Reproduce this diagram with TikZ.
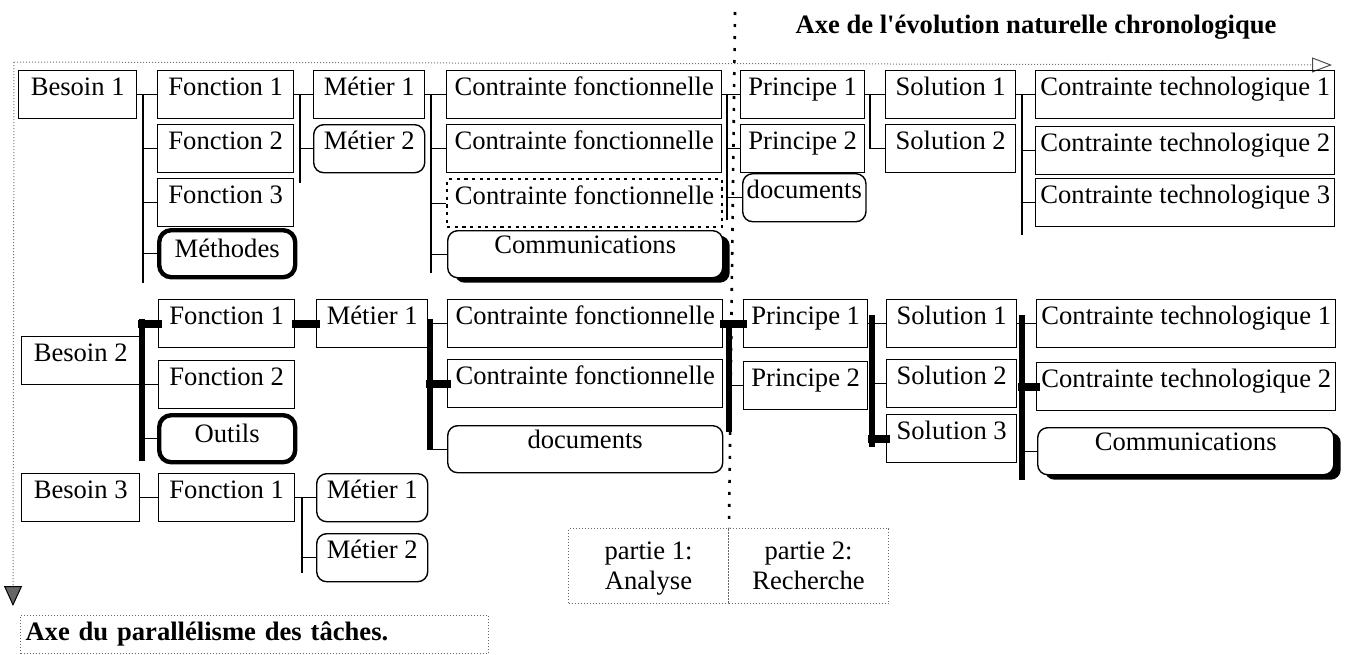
\documentclass[tikz,border=0pt]{standalone}
\usepackage{fontspec}
\setmainfont{Liberation Serif}
\usepackage{tikz}
\usetikzlibrary{arrows.meta,shadows}
\newcommand{\tfont}{\fontsize{13.3}{15}\selectfont}
\tikzset{
  tbox/.style ={rectangle, draw=black, line width=0.7pt, anchor=north west,
                inner xsep=2pt, inner ysep=0pt, text height=12.5pt, text depth=11.5pt,
                font=\tfont},
  trbox/.style={tbox, rounded corners=5pt},
  tdbox/.style={tbox, line width=1.1pt, dash pattern=on 1.6pt off 2.2pt},
  tmbox/.style={tbox, rounded corners=6pt, line width=2.2pt,
                text height=13.5pt, text depth=10pt},
  tsbox/.style={trbox, fill=white, text height=11.5pt, text depth=12pt,
                drop shadow={shadow xshift=3.5pt, shadow yshift=-2.5pt,
                             fill=black, opacity=1}},
  tpart/.style={rectangle, draw=black!60, densely dotted, line width=0.5pt,
                anchor=north west, minimum width=80pt, minimum height=37.5pt,
                align=center, font=\tfont},
  wB/.style={minimum width=59pt},
  wF/.style={minimum width=68pt},
  wM/.style={minimum width=55.5pt},
  wC/.style={minimum width=137.5pt},
  wP/.style={minimum width=62pt},
  wS/.style={minimum width=65pt},
  wT/.style={minimum width=149.5pt},
  tlink/.style={line width=0.6pt, black},
  tsep/.style ={line width=1.3pt, dash pattern=on 1.5pt off 4.5pt},
  taxis/.style={line width=0.5pt, black!55, densely dotted},
}

\begin{document}
\begin{tikzpicture}[x=0.5pt, y=-0.5pt,
    tbold/.style={line width=2.6pt, black},
    tstub/.style={line width=3.8pt, black, line cap=rect}]
  \useasboundingbox (0,0) rectangle (1347,654);
  \node[font=\tfont\bfseries] (axe) at (1036,27) {Axe de l\textquotesingle évolution naturelle chronologique};
  \coordinate (o) at (14,62);
  \coordinate (ax1) at (1332,65);
  \coordinate (ax2) at (13,606);
  \draw[taxis, -{Triangle[open, length=10pt, width=7.5pt, black!70]}] (o) -- (ax1);
  \draw[taxis, -{Triangle[length=10pt, width=9pt, black, fill=black!60]}] (o) -- (ax2);

  \node[tbox, wB]  (b1)   at (18,70)   {Besoin 1};
  \node[tbox, wF]  (f11)  at (157,70)  {Fonction 1};
  \node[tbox, wF]  (f12)  at (157,124) {Fonction 2};
  \node[tbox, wF]  (f13)  at (157,178) {Fonction 3};
  \node[tmbox, wF] (meth) at (157,228) {Méthodes};
  \node[tbox, wM]  (m11)  at (313,70)  {Métier 1};
  \node[trbox, wM] (m12)  at (313,124) {Métier 2};
  \node[tbox, wC]  (c11)  at (446,70)  {Contrainte fonctionnelle};
  \node[tbox, wC]  (c12)  at (446,124) {Contrainte fonctionnelle};
  \node[tdbox, wC] (c13)  at (446,178) {Contrainte fonctionnelle};
  \node[tsbox, wC] (com1) at (447,230) {Communications};
  \node[tbox, wP]  (p11)  at (740,70)  {Principe 1};
  \node[tbox, wP]  (p12)  at (740,124) {Principe 2};
  \node[trbox, minimum width=61pt] (doc1) at (742,173) {documents};
  \node[tbox, wS]  (s11)  at (885,70)  {Solution 1};
  \node[tbox, wS]  (s12)  at (885,124) {Solution 2};
  \node[tbox, wT]  (t11)  at (1035,70)  {Contrainte technologique 1};
  \node[tbox, wT]  (t12)  at (1035,126) {Contrainte technologique 2};
  \node[tbox, wT]  (t13)  at (1035,178) {Contrainte technologique 3};

  \node[tbox, wB]  (b2)   at (21,336)  {Besoin 2};
  \node[tbox, wF]  (f21)  at (158,299) {Fonction 1};
  \node[tbox, wF]  (f22)  at (158,360) {Fonction 2};
  \node[tmbox, wF] (outil) at (157,413) {Outils};
  \node[tbox, wM]  (m21)  at (316,299) {Métier 1};
  \node[tbox, wC]  (c21)  at (447,299) {Contrainte fonctionnelle};
  \node[tbox, wC]  (c22)  at (447,359) {Contrainte fonctionnelle};
  \node[trbox, wC, text height=11.5pt, text depth=12pt] (doc2) at (447,425) {documents};
  \node[tbox, wP]  (p21)  at (743,299) {Principe 1};
  \node[tbox, wP]  (p22)  at (743,361) {Principe 2};
  \node[tbox, wS]  (s21)  at (886,299) {Solution 1};
  \node[tbox, wS]  (s22)  at (886,359) {Solution 2};
  \node[tbox, wS]  (s23)  at (886,414) {Solution 3};
  \node[tbox, wT]  (t21)  at (1036,299) {Contrainte technologique 1};
  \node[tbox, wT]  (t22)  at (1036,362) {Contrainte technologique 2};
  \node[tsbox, minimum width=148pt] (com2) at (1037,427) {Communications};

  \node[tbox, wB]  (b3)   at (21,473)  {Besoin 3};
  \node[tbox, wF]  (f31)  at (158,473) {Fonction 1};
  \node[trbox, wM] (m31)  at (316,473) {Métier 1};
  \node[trbox, wM] (m32)  at (316,533) {Métier 2};

  \node[tpart, text depth=-2pt] (pa1) at (568,528) {partie 1:\\Analyse};
  \node[tpart, text depth=-2pt] (pa2) at (728,528) {partie 2:\\Recherche};
  \node[tpart, minimum width=234pt, minimum height=18.5pt, inner xsep=2.5pt,
        text width=229pt, align=left, font=\tfont\bfseries] (axp) at (20,615)
        {Axe du parallélisme des tâches.};
  \coordinate (sep0) at (735,12);
  \draw[tsep] (sep0) -- (pa1.north east);

  \coordinate (k11) at (143,94);  \coordinate (k11e) at (143,283);
  \draw[tlink] (b1) -- (f11);
  \draw[tlink] (k11) -- (k11e);
  \draw[tlink] (k11 |- f12.west) -- (f12.west);
  \draw[tlink] (k11 |- f13.west) -- (f13.west);
  \draw[tlink] (k11 |- meth.west) -- (meth.west);
  \coordinate (k12) at (300,94);  \coordinate (k12e) at (300,183);
  \draw[tlink] (f11) -- (m11);
  \draw[tlink] (k12) -- (k12e);
  \draw[tlink] (k12 |- m12.west) -- (m12.west);
  \coordinate (k13) at (431,94);  \coordinate (k13e) at (431,273);
  \draw[tlink] (m11) -- (c11);
  \draw[tlink] (k13) -- (k13e);
  \draw[tlink] (k13 |- c12.west) -- (c12.west);
  \draw[tlink] (k13 |- c13.west) -- (c13.west);
  \draw[tlink] (k13 |- com1.west) -- (com1.west);
  \coordinate (k14) at (727,94);  \coordinate (k14e) at (727,220);
  \draw[tlink] (c11) -- (p11);
  \draw[tlink] (k14) -- (k14e);
  \draw[tlink] (k14 |- p12.west) -- (p12.west);
  \draw[tlink] (k14 |- doc1.west) -- (doc1.west);
  \coordinate (k15) at (870,94);
  \draw[tlink] (p11) -- (s11);
  \draw[tlink] (k15) |- (s12.west);
  \coordinate (k16) at (1022,94); \coordinate (k16e) at (1022,235);
  \draw[tlink] (s11) -- (t11);
  \draw[tlink] (k16) -- (k16e);
  \draw[tlink] (k16 |- t12.west) -- (t12.west);
  \draw[tlink] (k16 |- t13.west) -- (t13.west);

  \coordinate (k21) at (142,319); \coordinate (k21e) at (142,461);
  \draw[tbold] (k21) -- (k21e);
  \draw[tlink] (b2.east) -- (k21 |- b2.east);
  \draw[tstub] (k21 |- f21.west) -- (f21.west);
  \draw[tlink] (k21 |- f22.west) -- (f22.west);
  \draw[tlink] (k21 |- outil.west) -- (outil.west);
  \draw[tstub] (f21) -- (m21);
  \coordinate (k22) at (430,319); \coordinate (k22e) at (430,450);
  \draw[tbold] (k22) -- (k22e);
  \draw[tlink] (m21) -- (c21);
  \draw[tstub] (k22 |- c22.west) -- (c22.west);
  \draw[tlink] (k22 |- doc2.west) -- (doc2.west);
  \coordinate (k23) at (729,325); \coordinate (k23e) at (729,432);
  \draw[tbold] (k23) -- (k23e);
  \draw[tstub] (c21) -- (p21);
  \draw[tlink] (k23 |- p22.west) -- (p22.west);
  \coordinate (k24) at (872,315); \coordinate (k24e) at (872,447);
  \draw[tbold] (k24) -- (k24e);
  \draw[tlink] (p21) -- (s21);
  \draw[tlink] (k24 |- s22.west) -- (s22.west);
  \draw[tstub] (k24 |- s23.west) -- (s23.west);
  \coordinate (k25) at (1022,315); \coordinate (k25e) at (1022,480);
  \draw[tbold] (k25) -- (k25e);
  \draw[tlink] (s21) -- (t21);
  \draw[tstub] (k25 |- t22.west) -- (t22.west);
  \draw[tlink] (k25 |- com2.west) -- (com2.west);

  \coordinate (k31) at (302,497); \coordinate (k31e) at (302,573);
  \draw[tlink] (b3) -- (f31);
  \draw[tlink] (f31) -- (m31);
  \draw[tlink] (k31) -- (k31e);
  \draw[tlink] (k31 |- m32.west) -- (m32.west);
\end{tikzpicture}
\end{document}
